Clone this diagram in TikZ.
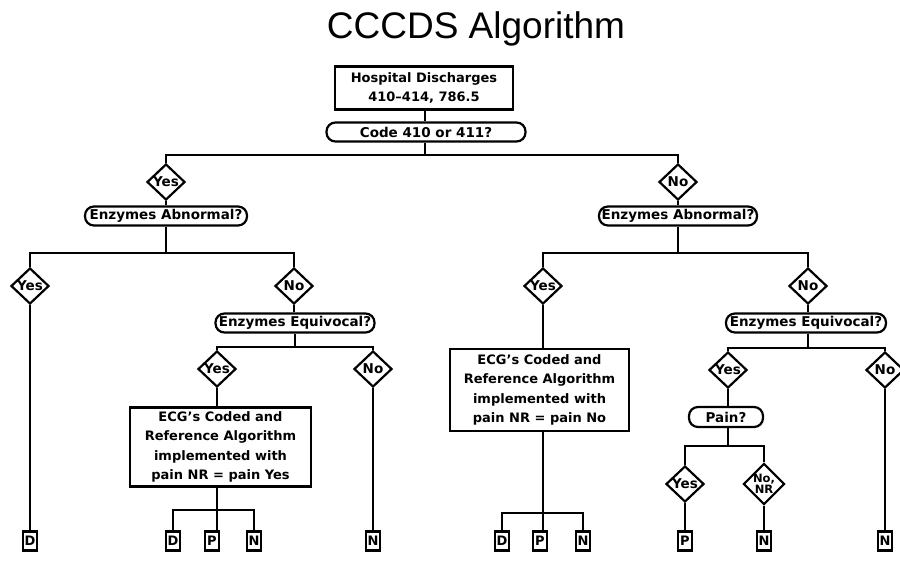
\documentclass[tikz,border=0pt]{standalone}
\usepackage{fontspec}
\setmainfont{DejaVu Sans}
\newfontfamily\titlefont{Liberation Sans}
\usetikzlibrary{shapes.geometric}
\begin{document}
\begin{tikzpicture}[x=1pt,y=-1pt,line width=2.2pt,
  box/.style={draw,rectangle,align=center,inner sep=0pt,font=\bfseries\fontsize{13}{19.5}\selectfont},
  rbox/.style={draw,rectangle,rounded corners=9pt,minimum height=19pt,inner sep=0pt,font=\bfseries\fontsize{13.5}{14}\selectfont},
  dia/.style={draw,diamond,minimum width=38pt,minimum height=36pt,inner sep=0pt,align=center,font=\bfseries\fontsize{13.5}{10}\selectfont},
  leaf/.style={draw,rectangle,minimum width=14pt,minimum height=19pt,inner sep=0pt,font=\bfseries\fontsize{13}{13}\selectfont}]
\useasboundingbox (0,0) rectangle (900,564);

\node[anchor=base,font=\titlefont\fontsize{37}{37}\selectfont] (title) at (476,39) {CCCDS Algorithm};

% top
\node[box,minimum width=178pt,minimum height=43pt] (hosp) at (424,88) {Hospital Discharges\\410--414, 786.5};
\node[rbox,minimum width=199pt] (code) at (426,132) {Code 410 or 411?};
\coordinate (b1) at (425,155);
\draw (hosp.south -| b1) -- (code.north -| b1);
\draw (code.south -| b1) -- (b1);

% left main branch
\node[dia] (ya) at (166,182) {Yes};
\node[rbox,minimum width=162pt] (eaL) at (166,216) {Enzymes Abnormal?};
\coordinate (b2) at (166,253);
\node[dia] (yb) at (30,286) {Yes};
\node[dia] (nb) at (294,286) {No};
\node[rbox,minimum width=159pt] (eqL) at (295,323) {Enzymes Equivocal?};
\coordinate (b3) at (295,347);
\node[dia] (yc) at (217,369) {Yes};
\node[dia] (nc) at (373,369) {No};
\node[box,minimum width=181pt,minimum height=79pt] (ecgL) at (220.5,447) {ECG's Coded and\\Reference Algorithm\\implemented with\\pain NR = pain Yes};
\coordinate (b4) at (217,510);
\node[leaf] (dL) at (30,541) {D};
\node[leaf] (d1) at (173,541) {D};
\node[leaf] (p1) at (212,541) {P};
\node[leaf] (n1) at (254,541) {N};
\node[leaf] (nL) at (373,541) {N};

% right main branch
\node[dia] (na) at (678,182) {No};
\node[rbox,minimum width=158pt] (eaR) at (678,216) {Enzymes Abnormal?};
\coordinate (b5) at (678,253);
\node[dia] (yd) at (543,286) {Yes};
\node[dia] (nd) at (808,286) {No};
\node[box,minimum width=179pt,minimum height=82pt] (ecgR) at (539.5,390) {ECG's Coded and\\Reference Algorithm\\implemented with\\pain NR = pain No};
\coordinate (b6) at (543,513);
\node[leaf] (d2) at (502,541) {D};
\node[leaf] (p2) at (540,541) {P};
\node[leaf] (n2) at (583,541) {N};
\node[rbox,minimum width=160pt] (eqR) at (806,323) {Enzymes Equivocal?};
\coordinate (b7) at (808,348);
\node[dia] (ye) at (728,370) {Yes};
\node[dia] (ne) at (885,370) {No};
\node[rbox,minimum width=74pt,minimum height=20pt] (pain) at (726,417) {Pain?};
\coordinate (b8) at (728,446);
\node[dia] (yf) at (685,484) {Yes};
\node[dia,font=\bfseries\fontsize{11.5}{11}\selectfont] (nf) at (764,484) {No,\\NR};
\node[leaf] (pf) at (685,541) {P};
\node[leaf] (nf2) at (764,541) {N};
\node[leaf] (nR) at (885,541) {N};

% connectors
\draw (b1) -| (ya.north);
\draw (b1) -| (na.north);
\draw (ya.south) -- (eaL.north -| ya);
\draw (na.south) -- (eaR.north -| na);
\draw (eaL.south -| b2) -- (b2);
\draw (b2) -| (yb.north);
\draw (b2) -| (nb.north);
\draw (yb.south) -- (dL.north);
\draw (nb.south) -- (eqL.north -| nb);
\draw (eqL.south -| b3) -- (b3);
\draw (b3) -| (yc.north);
\draw (b3) -| (nc.north);
\draw (yc.south) -- (ecgL.north -| yc);
\draw (nc.south) -- (nL.north);
\draw (ecgL.south -| b4) -- (b4);
\draw (b4) -| (d1.north);
\draw (b4) -| (n1.north);
\draw (b4) -- (b4 |- p1.north);

\draw (eaR.south -| b5) -- (b5);
\draw (b5) -| (yd.north);
\draw (b5) -| (nd.north);
\draw (yd.south) -- (ecgR.north -| yd);
\draw (ecgR.south -| b6) -- (b6);
\draw (b6) -| (d2.north);
\draw (b6) -| (n2.north);
\draw (b6) -- (b6 |- p2.north);
\draw (nd.south) -- (eqR.north -| nd);
\draw (eqR.south -| b7) -- (b7);
\draw (b7) -| (ye.north);
\draw (b7) -| (ne.north);
\draw (ye.south) -- (pain.north -| ye);
\draw (ne.south) -- (nR.north);
\draw (pain.south -| b8) -- (b8);
\draw (b8) -| (yf.north);
\draw (b8) -| (nf.north);
\draw (yf.south) -- (pf.north);
\draw (nf.south) -- (nf2.north);
\end{tikzpicture}
\end{document}
